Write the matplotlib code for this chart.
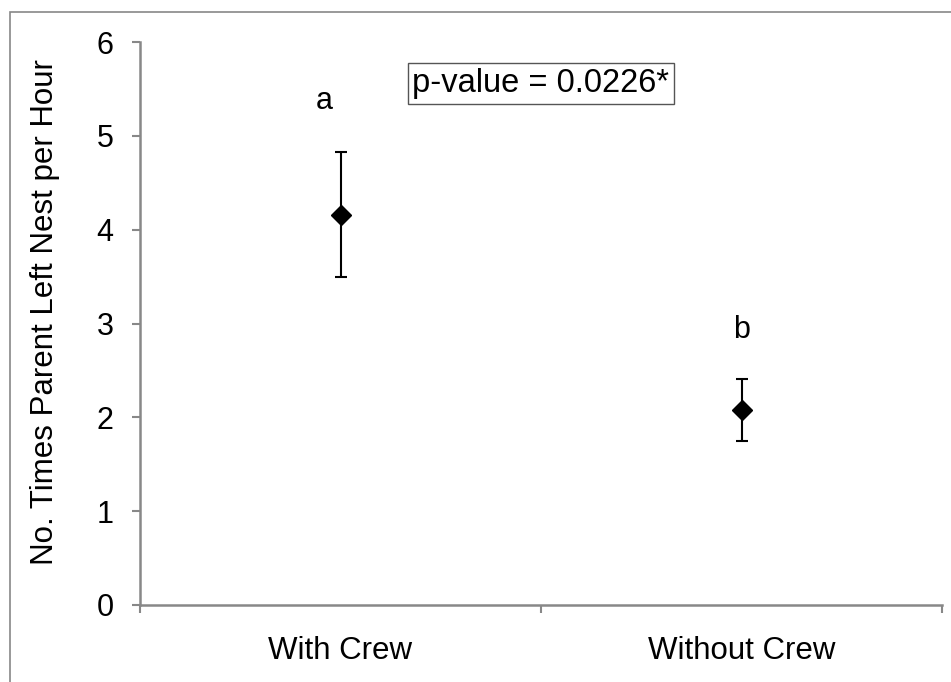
import matplotlib.pyplot as plt
from matplotlib.patches import Rectangle

plt.rcParams['font.family'] = ['Liberation Sans', 'DejaVu Sans']

# data
groups = ['With Crew', 'Without Crew']
means = [4.16, 2.08]
err_low = [3.50, 1.75]
err_high = [4.83, 2.41]
letters = ['a', 'b']
letter_x = [0.46, 1.5]
letter_y = [5.37, 2.93]
p_text = 'p-value = 0.0226*'

W, H = 951, 682
fig = plt.figure(figsize=(W / 100, H / 100), dpi=100)
ax = fig.add_axes([140 / W, 77 / H, 802 / W, 563 / H])

# outer chart frame (right/bottom edges cropped off in the original)
fig.patches.append(Rectangle((10 / W, -0.1), 1.2, 1 - 12 / H + 0.1,
                             transform=fig.transFigure, fill=False,
                             edgecolor='#878787', linewidth=1.2))

gray = '#888888'
xpos = [0.5, 1.5]
yerr = [[m - lo for m, lo in zip(means, err_low)],
        [hi - m for m, hi in zip(means, err_high)]]
ax.errorbar(xpos, means, yerr=yerr, fmt='D', color='black', markersize=10.5,
            ecolor='black', elinewidth=1.5, capsize=4.3, capthick=1.5)

for x, t, y in zip(letter_x, letters, letter_y):
    ax.text(x, y, t, ha='center', va='center', fontsize=22)

ax.text(1.0, 5.56, p_text, ha='center', va='center', fontsize=23.5,
        bbox=dict(boxstyle='square,pad=0.15', facecolor='white',
                  edgecolor='#555555', linewidth=1.0))

ax.set_xlim(0, 2)
ax.set_ylim(0, 6)
ax.set_yticks(range(0, 7))
ax.set_xticks(xpos)
ax.set_xticklabels(groups)
ax.set_xticks([0, 1, 2], minor=True)
ax.tick_params(axis='x', which='major', length=0, labelsize=22.5, pad=22)
ax.tick_params(axis='x', which='minor', length=6, width=1.5, color=gray, direction='out')
ax.tick_params(axis='y', length=6, width=1.5, color=gray, labelsize=22, pad=13)
ax.set_ylabel('No. Times Parent Left Nest per Hour', fontsize=22.5, labelpad=26)
ax.yaxis.label.set_y(0.52)

for s in ['top', 'right']:
    ax.spines[s].set_visible(False)
for s in ['left', 'bottom']:
    ax.spines[s].set_color(gray)
    ax.spines[s].set_linewidth(1.8)

fig.savefig('out.png', dpi=100)
